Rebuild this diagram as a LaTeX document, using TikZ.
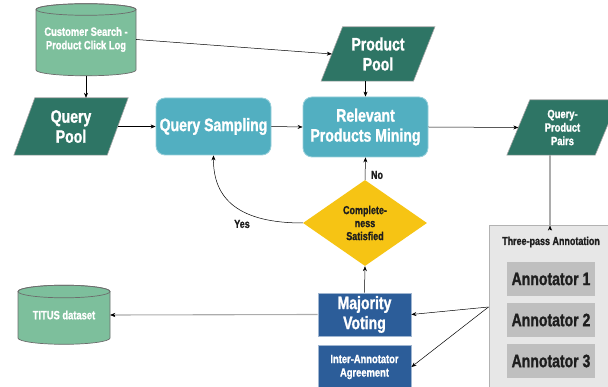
\documentclass[tikz,border=0pt]{standalone}
\usepackage{fontspec}
\setmainfont{Liberation Sans}[FakeStretch=0.78, BoldFeatures={FakeBold=1.2}]
\usetikzlibrary{shapes.geometric,arrows.meta,backgrounds}

\definecolor{cylgreen}{HTML}{7DBF9C}
\definecolor{darkteal}{HTML}{2E7565}
\definecolor{lightteal}{HTML}{52AFC1}
\definecolor{goldyel}{HTML}{F6C414}
\definecolor{navyblue}{HTML}{2C5D99}
\definecolor{panelgray}{HTML}{E7E7E7}
\definecolor{annogray}{HTML}{BFBFBF}
\definecolor{inkdark}{HTML}{1E1E1E}

\tikzset{
  big/.style={font=\bfseries\fontsize{18}{20}\selectfont},
  small/.style={font=\bfseries\fontsize{12}{13.5}\selectfont},
  label/.style={font=\bfseries\fontsize{11.5}{13}\selectfont, text=inkdark},
  boxnode/.style={draw=none, inner sep=0pt, align=center},
  roundbox/.style={boxnode, rounded corners=9pt, fill=lightteal, draw=lightteal!60!white, line width=0.8pt, text=white, big},
  bluebox/.style={boxnode, fill=navyblue, draw=navyblue!45!white, line width=0.8pt, text=white},
  annobox/.style={boxnode, fill=annogray, text=inkdark, big, minimum width=88pt, minimum height=34pt},
  parafill/.style={fill=darkteal, draw=gray!70, line width=0.6pt},
  cylfill/.style={fill=cylgreen, draw=gray!85!black, line width=0.7pt},
  flow/.style={-{Stealth[length=5pt,width=4pt]}, line width=0.5pt, draw=black},
  grayflow/.style={-{Stealth[length=5pt,width=4pt]}, line width=1.1pt, draw=gray!65},
}

% slanted box drawn behind a named node: node name, half slant offset
\newcommand{\slantbox}[2]{%
  \path[parafill] ([xshift=#2]#1.north west) -- ([xshift=#2]#1.north east)
    -- ([xshift=-#2]#1.south east) -- ([xshift=-#2]#1.south west) -- cycle;}
% upright cylinder: centre x, top ellipse y, bottom ellipse y, radius, ellipse height
\newcommand{\drumshape}[5]{%
  \path[cylfill] (#1-#4,#2) -- (#1-#4,#3) arc[start angle=180, end angle=0, x radius=#4, y radius=#5]
    -- (#1+#4,#2) arc[start angle=0, end angle=-180, x radius=#4, y radius=#5] -- cycle;
  \draw[gray!85!black, line width=0.7pt] (#1,#2) ellipse[x radius=#4, y radius=#5];}

\begin{document}
\begin{tikzpicture}[x=1pt, y=-1pt]
\useasboundingbox (0,0) rectangle (608,387);
\clip (0,0) rectangle (608,387);

% ---- sources ----
\drumshape{86}{9.5}{70}{50}{5.8}
\node[boxnode, text=white, small, minimum width=100pt, minimum height=72pt] (cust) at (86,39.5) {Customer Search -\\Product Click Log};

\drumshape{64}{291.5}{338}{46}{6.3}
\node[boxnode, text=white, small, minimum width=92pt, minimum height=58pt] (titus) at (64,315) {TITUS dataset};

% ---- slanted data boxes ----
\node[boxnode, text=white, big, minimum width=93pt, minimum height=57pt] (qpool) at (71,126.5) {Query\\Pool};
\node[boxnode, text=white, big, minimum width=92pt, minimum height=54pt] (ppool) at (378,54) {Product\\Pool};
\node[boxnode, text=white, small, minimum width=88pt, minimum height=55pt] (pairs) at (562.5,127.5) {Query-\\Product\\Pairs};
\begin{scope}[on background layer]
  \slantbox{qpool}{10.5}
  \slantbox{ppool}{10.75}
  \slantbox{pairs}{11.5}
\end{scope}

% ---- processing steps ----
\node[roundbox, minimum width=115pt, minimum height=57pt] (qs) at (213.5,126.5) {Query Sampling};
\node[roundbox, minimum width=125pt, minimum height=60pt] (rpm) at (365.5,127) {Relevant\\Products Mining};

% ---- decision ----
\node[diamond, boxnode, fill=goldyel, aspect=1.44, minimum width=124pt, minimum height=86pt, label, text=inkdark] (dec) at (365,223) {Complete-\\ness\\Satisfied};

% ---- voting ----
\node[bluebox, big, minimum width=93pt, minimum height=43pt] (mv) at (364.5,314.5) {Majority\\Voting};
\node[bluebox, small, minimum width=93pt, minimum height=44pt] (iaa) at (364.5,367) {Inter-Annotator\\Agreement};

% ---- annotation panel ----
\node[boxnode, fill=panelgray, draw=gray!60, line width=1pt, minimum width=131pt, minimum height=162pt] (panel) at (554.5,307) {};
\node[label] (ptitle) at (551,242) {Three-pass Annotation};
\node[annobox] (a1) at (551,279) {Annotator 1};
\node[annobox] (a2) at (551,320) {Annotator 2};
\node[annobox] (a3) at (551,361) {Annotator 3};

% ---- connectors ----
\draw[flow] (cust.south) -- (cust.south |- qpool.north);
\draw[flow] (cust.east) -- (ppool.west);
\draw[flow] (qpool.east) -- (qs.west);
\draw[flow] (qs.east) -- (rpm.west);
\draw[flow] (rpm.north |- ppool.south) -- (rpm.north);
\draw[flow] (rpm.east) -- (pairs.west);
\coordinate (drop) at (550,0);
\draw[line width=1.1pt, gray!65] (drop |- pairs.south) -- (drop |- panel.north);
\draw[flow] ([yshift=-5pt]drop |- panel.north) -- (drop |- panel.north);
\draw[flow] (dec.north) -- (rpm.south);
\node[label] (no) at (377,175) {No};
\draw[flow] (dec.west) .. controls (240,223) and (213,200) .. (qs.south);
\node[label] (yes) at (242,224) {Yes};
\draw[flow] (mv.north) -- (dec.south);
\draw[flow] (panel.west) -- (mv.east);
\draw[flow] (panel.west) -- (iaa.east);
\draw[grayflow] (mv.west) -- (titus.east);
\draw[flow] ([xshift=5pt]titus.east) -- (titus.east);
\end{tikzpicture}
\end{document}
